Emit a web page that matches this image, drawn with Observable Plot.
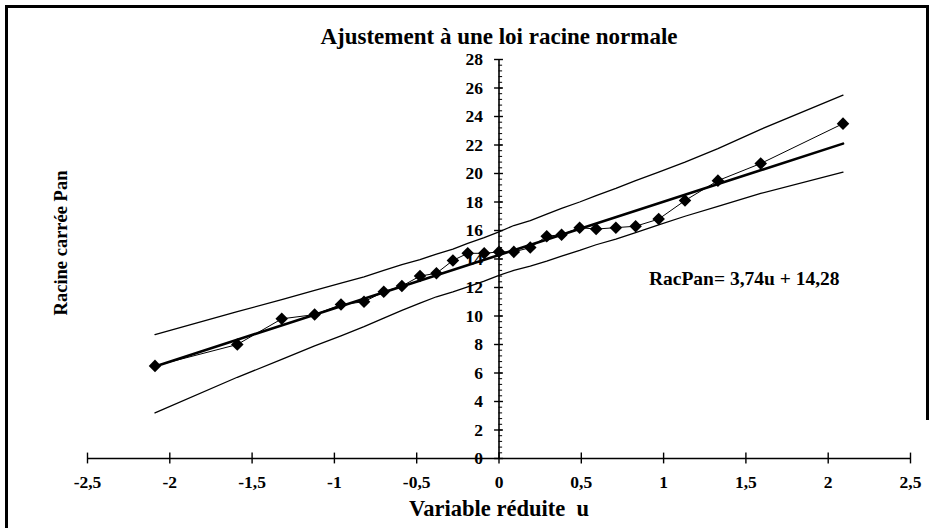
<!DOCTYPE html>
<html>
<head>
<meta charset="utf-8">
<script src="https://cdn.jsdelivr.net/npm/d3@7"></script>
<script src="https://cdn.jsdelivr.net/npm/@observablehq/plot@0.6"></script>
<style>
  html, body { margin: 0; padding: 0; background: #fff; }
  #wrap { position: relative; width: 934px; height: 528px; overflow: hidden; }
  .b { position: absolute; background: #000; }
</style>
</head>
<body>
<div id="wrap">
  <div class="b" style="left:5px;top:5px;width:2.5px;height:523px"></div>
  <div class="b" style="left:5px;top:5px;width:923px;height:2.5px"></div>
  <div class="b" style="left:926px;top:5px;width:2.5px;height:415px"></div>
</div>
<script>
// Variable réduite u (normal scores)
const u = [-2.09,-1.59,-1.32,-1.12,-0.96,-0.82,-0.70,-0.59,-0.48,-0.38,-0.28,-0.19,-0.09,0,0.09,0.19,0.29,0.38,0.49,0.59,0.71,0.83,0.97,1.13,1.33,1.59,2.09];
// Racine carrée Pan (observed)
const racPan = [6.5,8.0,9.8,10.1,10.8,11.0,11.7,12.1,12.8,13.0,13.9,14.4,14.4,14.5,14.5,14.8,15.6,15.7,16.2,16.1,16.2,16.3,16.8,18.1,19.5,20.7,23.5];
// Confidence limits
const upper = [8.7,10.3,11.15,11.8,12.3,12.75,13.2,13.6,13.95,14.35,14.7,15.1,15.5,15.9,16.35,16.7,17.15,17.55,18.0,18.45,18.95,19.5,20.1,20.8,21.75,23.1,25.5];
const lower = [3.2,5.7,6.95,7.9,8.6,9.25,9.85,10.4,10.9,11.35,11.7,12.05,12.45,12.85,13.2,13.5,13.85,14.2,14.6,15.0,15.4,15.85,16.4,17.0,17.7,18.6,20.1];
// Regression: RacPan = 3,74u + 14,28
const slope = 3.74, intercept = 14.28;
const xTicks = [-2.5,-2,-1.5,-1,-0.5,0,0.5,1,1.5,2,2.5];
const yTicks = [0,2,4,6,8,10,12,14,16,18,20,22,24,26,28];
const yMinor = d3.range(0, 28.001, 0.4);
const title = "Ajustement à une loi racine normale";
const xTitle = "Variable réduite  u";
const yTitle = "Racine carrée Pan";
const eqText = "RacPan= 3,74u + 14,28";

const pts = u.map((v, i) => ({u: v, y: racPan[i], up: upper[i], lo: lower[i]}));
const reg = [u[0], u[u.length - 1]].map(v => ({u: v, y: slope * v + intercept}));
const fmt = d => String(d).replace(".", ",");
const font = "'Liberation Serif', 'Times New Roman', serif";

const chart = Plot.plot({
  width: 934,
  height: 528,
  marginLeft: 87,
  marginRight: 24,
  marginTop: 59,
  marginBottom: 70,
  style: {fontFamily: font, background: "transparent", overflow: "visible"},
  x: {domain: [-2.5, 2.5], axis: null},
  y: {domain: [0, 28], axis: null},
  marks: [
    // confidence curves
    Plot.line(pts, {x: "u", y: "up", stroke: "#000", strokeWidth: 1.3}),
    Plot.line(pts, {x: "u", y: "lo", stroke: "#000", strokeWidth: 1.3}),
    // axes
    Plot.ruleY([0], {x1: -2.5, x2: 2.5, stroke: "#000", strokeWidth: 1.6}),
    Plot.ruleX([0], {y1: 0, y2: 28, stroke: "#000", strokeWidth: 1.6}),
    Plot.ruleX(xTicks, {x: d => d, y1: -0.38, y2: 0.38, stroke: "#000", strokeWidth: 1.4}),
    Plot.ruleY(yTicks, {y: d => d, x1: -0.027, x2: 0.027, stroke: "#000", strokeWidth: 1.4}),
    Plot.ruleY(yMinor, {y: d => d, x1: 0, x2: 0.022, stroke: "#000", strokeWidth: 1}),
    // tick labels
    Plot.text(xTicks, {x: d => d, y: 0, dy: 24, text: fmt, fontSize: 17.5, fontWeight: "bold", fill: "#000"}),
    Plot.text(yTicks, {x: 0, y: d => d, dx: -16, text: fmt, textAnchor: "end", fontSize: 17.5, fontWeight: "bold", fill: "#000"}),
    // data line and regression
    Plot.line(pts, {x: "u", y: "y", stroke: "#000", strokeWidth: 1}),
    Plot.line(reg, {x: "u", y: "y", stroke: "#000", strokeWidth: 2.6}),
    Plot.dot(pts, {x: "u", y: "y", symbol: "square", r: 5, rotate: 45, fill: "#000", stroke: "none"}),
    // texts
    Plot.text([eqText], {x: 1.49, y: 12.6, fontSize: 19.5, fontWeight: "bold", fill: "#000"}),
    Plot.text([title], {frameAnchor: "top", lineAnchor: "middle", dy: -23, fontSize: 23, fontWeight: "bold", fill: "#000"}),
    Plot.text([xTitle], {frameAnchor: "bottom", lineAnchor: "middle", dy: 50, fontSize: 22.5, fontWeight: "bold", fill: "#000"}),
    Plot.text([yTitle], {frameAnchor: "left", textAnchor: "middle", lineAnchor: "middle", dx: -26, dy: -16, rotate: -90, fontSize: 18.5, fontWeight: "bold", fill: "#000"})
  ]
});
document.getElementById("wrap").appendChild(chart);
</script>
</body>
</html>
